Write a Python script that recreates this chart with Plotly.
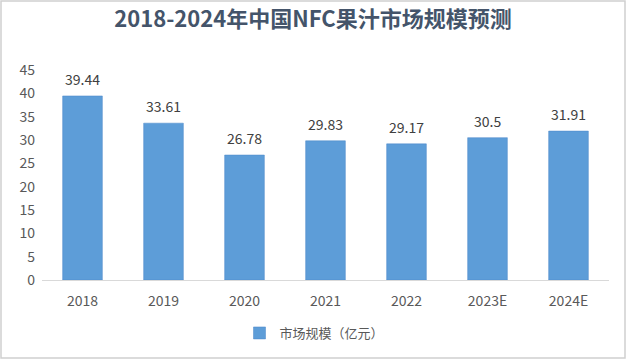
import plotly.graph_objects as go

years = ["2018", "2019", "2020", "2021", "2022", "2023E", "2024E"]
values = [39.44, 33.61, 26.78, 29.83, 29.17, 30.5, 31.91]
labels = ["39.44", "33.61", "26.78", "29.83", "29.17", "30.5", "31.91"]
series_name = "市场规模（亿元）"
title = "2018-2024年中国NFC果汁市场规模预测"

W, H = 626, 359
L, R, T, B = 42, 17, 70, 79
font = "Noto Sans CJK SC, Noto Sans, sans-serif"

fig = go.Figure()
fig.add_trace(go.Bar(
    x=years, y=values, name=series_name,
    marker=dict(color="#5D9DD8", line=dict(color="#4A86C8", width=0.5)),
    showlegend=True,
))
for i, (v, lab) in enumerate(zip(values, labels)):
    fig.add_annotation(x=i, y=v, text=lab, showarrow=False, yanchor="bottom", yshift=5,
                       font=dict(size=14, color="#404040", family=font))

pw = W - L - R
ph = H - T - B
fig.update_layout(
    width=W, height=H,
    margin=dict(l=L, r=R, t=T, b=B, autoexpand=False),
    paper_bgcolor="white", plot_bgcolor="white",
    bargap=0.51,
    title=dict(text=f"<b>{title}</b>", x=0.5, xanchor="center", y=1 - 19/H, yanchor="middle",
               yref="container", font=dict(size=22, color="#44546A", family=font)),
    font=dict(family=font, color="#595959", size=13),
    showlegend=True,
    legend=dict(orientation="h", x=0.5 - 11/pw, xanchor="center", y=-53/ph, yanchor="middle",
                font=dict(size=13, color="#595959"), itemwidth=30),
    xaxis=dict(type="category", range=[-0.5, len(years) - 0.5], showline=True,
               linecolor="#D9D9D9", linewidth=1, ticks="",
               tickfont=dict(size=14, color="#595959"), showgrid=False, ticklabelstandoff=8),
    yaxis=dict(range=[0, 45], dtick=5, showgrid=False, zeroline=False, showline=False,
               tickfont=dict(size=14, color="#595959"), ticks="", ticklabelstandoff=6),
    shapes=[dict(type="rect", xref="paper", yref="paper",
                 x0=-(L - 1) / pw, x1=1 + (R - 1) / pw,
                 y0=-(B - 1) / ph, y1=1 + (T - 1) / ph,
                 line=dict(color="#D0D0D0", width=1.5))],
)
fig.write_html("out.html", config={"displayModeBar": False},
               post_script="document.body.style.margin='0';")
